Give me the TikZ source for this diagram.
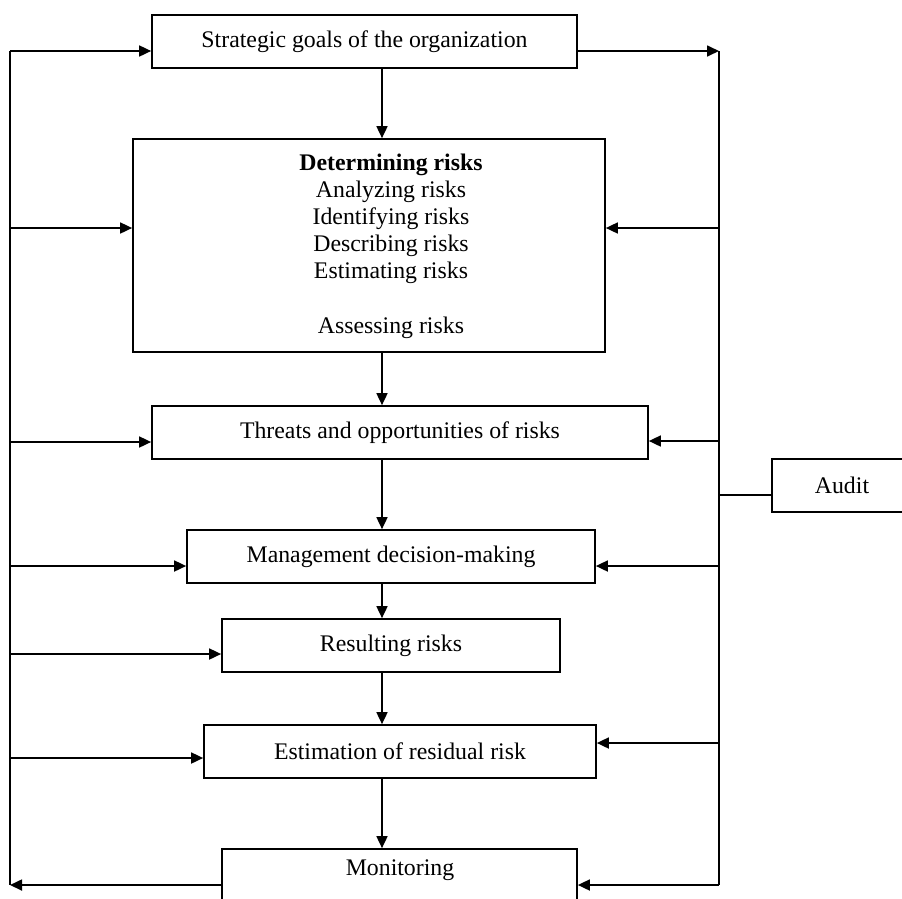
\documentclass[tikz,border=0pt]{standalone}
\usepackage{fontspec}
\setmainfont{Liberation Serif}
\usetikzlibrary{arrows.meta}
\begin{document}
\begin{tikzpicture}[x=1pt,y=-1pt,
  box/.style={draw, line width=1.7pt, inner sep=0pt, minimum height=53pt, anchor=center},
  txt/.style={font=\fontsize{23.8}{27.2}\selectfont, inner sep=0pt},
  conn/.style={line width=1.7pt},
  arr/.style={conn, -{Triangle[length=12pt,width=11pt]}}]
\useasboundingbox (0,0) rectangle (902,898);
% boxes
\node[box, txt, minimum width=425pt] (sg) at (364.5,41.5) {Strategic goals of the organization};
\node[box, minimum width=472pt, minimum height=213pt] (det) at (369,245.5) {};
\node[txt, align=center] (dettext) at (391,246) {\textbf{Determining risks}\\Analyzing risks\\Identifying risks\\Describing risks\\Estimating risks\\ ~\\Assessing risks};
\node[box, txt, minimum width=496pt] (thr) at (400,432.5) {Threats and opportunities of risks};
\node[box, txt, minimum width=408pt] (mgmt) at (391,556.5) {Management decision-making};
\node[box, txt, minimum width=338pt] (res) at (391,645.5) {Resulting risks};
\node[box, txt, minimum width=392pt] (est) at (400,751.5) {Estimation of residual risk};
\node[box, minimum width=355pt, minimum height=70pt] (mon) at (399.5,884) {};
\node[txt] (montext) at (400,870) {Monitoring};
\node[box, txt, minimum width=140pt] (audit) at (842,485.5) {Audit};
% axis of the main flow
\coordinate (ax) at (382,0);
% left bus points
\coordinate (L0) at (10,51);
\coordinate (L1) at (10,228);
\coordinate (L2) at (10,442);
\coordinate (L3) at (10,566);
\coordinate (L4) at (10,654);
\coordinate (L5) at (10,758);
\coordinate (L6) at (10,885);
% right bus points
\coordinate (R0) at (719,51);
\coordinate (R1) at (719,228);
\coordinate (R2) at (719,441);
\coordinate (RA) at (719,495);
\coordinate (R3) at (719,566);
\coordinate (R4) at (719,743);
\coordinate (R5) at (719,885);
% buses
\draw[conn] (L0) -- (L6);
\draw[conn] (R0) -- (R5);
% main flow
\draw[arr] (sg.south -| ax) -- (det.north -| ax);
\draw[arr] (det.south -| ax) -- (thr.north -| ax);
\draw[arr] (thr.south -| ax) -- (mgmt.north -| ax);
\draw[arr] (mgmt.south -| ax) -- (res.north -| ax);
\draw[arr] (res.south -| ax) -- (est.north -| ax);
\draw[arr] (est.south -| ax) -- (mon.north -| ax);
% left arrows
\draw[arr] (L0) -- (L0 -| sg.west);
\draw[arr] (L1) -- (L1 -| det.west);
\draw[arr] (L2) -- (L2 -| thr.west);
\draw[arr] (L3) -- (L3 -| mgmt.west);
\draw[arr] (L4) -- (L4 -| res.west);
\draw[arr] (L5) -- (L5 -| est.west);
\draw[arr] (L6 -| mon.west) -- (L6);
% right arrows
\draw[arr] (R0 -| sg.east) -- (R0);
\draw[arr] (R1) -- (R1 -| det.east);
\draw[arr] (R2) -- (R2 -| thr.east);
\draw[arr] (R3) -- (R3 -| mgmt.east);
\draw[arr] (R4) -- (R4 -| est.east);
\draw[arr] (R5) -- (R5 -| mon.east);
% audit
\draw[conn] (RA) -- (RA -| audit.west);
\end{tikzpicture}
\end{document}
